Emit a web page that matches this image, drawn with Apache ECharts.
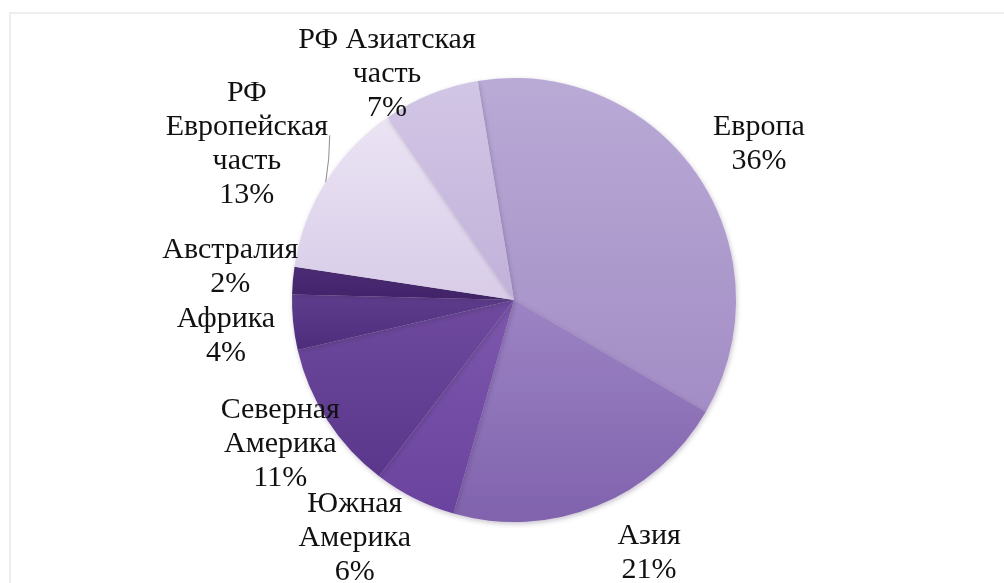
<!DOCTYPE html>
<html>
<head>
<meta charset="utf-8">
<script src="https://cdn.jsdelivr.net/npm/echarts@6/dist/echarts.min.js"></script>
<style>
  html, body { margin: 0; padding: 0; background: #ffffff; }
  #chart { width: 1004px; height: 583px; }
</style>
</head>
<body>
<div id="chart"></div>
<script>
// Regions, clockwise from the top of the pie
const categories = [
  'Европа',
  'Азия',
  'Южная\nАмерика',
  'Северная\nАмерика',
  'Африка',
  'Австралия',
  'РФ\nЕвропейская\nчасть',
  'РФ Азиатская\nчасть'
];
const shares = [36, 21, 6, 11, 4, 2, 13, 7];

// Slice fills: [top colour, bottom colour]
const sliceColors = [
  ['#b9aad6', '#a38dc5'],
  ['#9c84c4', '#8062ad'],
  ['#7d58ad', '#6a439e'],
  ['#6f4a9f', '#5a378b'],
  ['#5f3d8e', '#4d2d7b'],
  ['#4d2c77', '#41236a'],
  ['#ebe4f4', '#d8cce8'],
  ['#d2c6e5', '#c1b1da']
];

// Label placement per slice: [distance from centre, angular nudge in degrees]
const labelPlace = [
  [292, -1.6],
  [284, 6.4],
  [284, -7.5],
  [273, -1.7],
  [290, 0.8],
  [286, -2.2],
  [311, 1.2],
  [262, 7]
];

const CX = 514, CY = 300, R = 222, START = 99.4;
const LABEL_DY = 3;

// mid-angle of every slice (degrees, counter-clockwise from 3 o'clock)
const total = shares.reduce((s, v) => s + v, 0);
const midAngles = [];
let acc = START;
shares.forEach(v => {
  const span = v / total * 360;
  midAngles.push(acc - span / 2);
  acc -= span;
});

const chart = echarts.init(document.getElementById('chart'), null, { renderer: 'canvas' });

const data = categories.map((name, i) => {
  const item = {
    name: name,
    value: shares[i],
    itemStyle: {
      color: {
        type: 'linear', x: 0, y: 0, x2: 0, y2: 1,
        colorStops: [
          { offset: 0, color: sliceColors[i][0] },
          { offset: 1, color: sliceColors[i][1] }
        ]
      }
    }
  };
  if (i === 6) {
    item.labelLine = { show: true, lineStyle: { color: '#8c8c8c', width: 1 } };
  }
  return item;
});

chart.setOption({
  backgroundColor: '#ffffff',
  animation: false,
  graphic: [{
    type: 'rect',
    shape: { x: 10, y: 13, width: 1010, height: 600 },
    style: { fill: 'none', stroke: '#e9e9e9', lineWidth: 1.5 },
    silent: true
  }],
  series: [{
    type: 'pie',
    center: [CX, CY],
    radius: R,
    startAngle: START,
    clockwise: true,
    percentPrecision: 0,
    avoidLabelOverlap: false,
    data: data,
    itemStyle: {
      borderWidth: 0,
      shadowBlur: 5,
      shadowColor: 'rgba(60, 40, 80, 0.28)',
      shadowOffsetX: 1,
      shadowOffsetY: 2
    },
    label: {
      show: true,
      position: 'outside',
      formatter: '{b}\n{d}%',
      fontFamily: '"Liberation Serif", "Times New Roman", serif',
      fontSize: 30,
      lineHeight: 34,
      color: '#111111',
      align: 'center'
    },
    labelLine: { show: false },
    emphasis: { disabled: true },
    labelLayout: function (p) {
      const i = p.dataIndex;
      const a = (midAngles[i] + labelPlace[i][1]) * Math.PI / 180;
      const d = labelPlace[i][0];
      const x = CX + d * Math.cos(a);
      const y = CY - d * Math.sin(a) + LABEL_DY;
      const out = { x: x, y: y, align: 'center', verticalAlign: 'middle' };
      if (i === 6) {
        const m = midAngles[i] * Math.PI / 180;
        const ex = CX + R * Math.cos(m), ey = CY - R * Math.sin(m);
        out.labelLinePoints = [[ex, ey], [ex + 3, ey - 24], [ex + 4, ey - 47]];
      }
      return out;
    }
  }]
});
</script>
</body>
</html>
